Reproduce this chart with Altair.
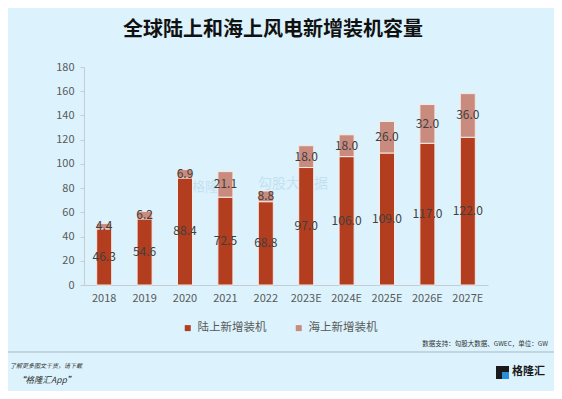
import altair as alt
import pandas as pd

years = ["2018", "2019", "2020", "2021", "2022", "2023E", "2024E", "2025E", "2026E", "2027E"]
onshore = [46.3, 54.6, 88.4, 72.5, 68.8, 97.0, 106.0, 109.0, 117.0, 122.0]
offshore = [4.4, 6.2, 6.9, 21.1, 8.8, 18.0, 18.0, 26.0, 32.0, 36.0]
series = ["陆上新增装机", "海上新增装机"]
colors = ["#b33d1f", "#c98b7e"]
y_ticks = list(range(0, 181, 20))

title_text = "全球陆上和海上风电新增装机容量"
source_text = "数据支持：勾股大数据、GWEC，单位：GW"
footer1 = "了解更多图文干货，请下载"
footer2 = "“格隆汇App”"
logo_text = "格隆汇"

rows = []
for i, y in enumerate(years):
    rows.append({"year": y, "type": series[0], "value": onshore[i], "ord": 0,
                 "mid": onshore[i] / 2})
    rows.append({"year": y, "type": series[1], "value": offshore[i], "ord": 1,
                 "mid": onshore[i] + offshore[i] / 2})
df = pd.DataFrame(rows)

FONT = "Noto Sans CJK SC"

xscale = alt.Scale(paddingInner=0, paddingOuter=0)
xaxis = alt.Axis(labelAngle=0, ticks=False, domainColor="#c5cdd2",
                 labelColor="#595959", labelFontSize=11, labelPadding=7,
                 labelFont=FONT)
yscale = alt.Scale(domain=[0, 180], nice=False)
yaxis = alt.Axis(values=y_ticks, grid=False, domainColor="#c5cdd2",
                 tickColor="#c5cdd2", tickSize=4, labelPadding=6,
                 labelOverlap=False,
                 labelColor="#595959", labelFontSize=11, labelFont=FONT)

bars = alt.Chart(df).mark_bar(size=15, stroke="#f7e9e4", strokeWidth=1).encode(
    x=alt.X("year:N", sort=years, title=None, scale=xscale, axis=xaxis),
    y=alt.Y("value:Q", stack="zero", scale=yscale, title=None, axis=yaxis),
    color=alt.Color("type:N", scale=alt.Scale(domain=series, range=colors),
                    legend=alt.Legend(title=None, orient="none", direction="horizontal",
                                      legendX=98, legendY=255, symbolType="square",
                                      symbolSize=36, labelFontSize=11.5, labelColor="#595959",
                                      labelFont=FONT, columnPadding=26,
                                      symbolStrokeWidth=0)),
    order=alt.Order("ord:Q"),
)

labels = alt.Chart(df).mark_text(fontSize=12, color="#404040", font=FONT).encode(
    x=alt.X("year:N", sort=years, title=None, scale=xscale, axis=xaxis),
    y=alt.Y("mid:Q", scale=yscale, title=None, axis=yaxis),
    text=alt.Text("value:Q", format=".1f"),
)

def txt(s, x, y, **kw):
    return alt.Chart(pd.DataFrame({"t": [s]})).mark_text(font=FONT, **kw).encode(
        text="t:N", x=alt.value(x), y=alt.value(y))

title = txt(title_text, 189, -37, fontSize=20, fontWeight="bold", color="#111111")
source = txt(source_text, 464, 277, fontSize=6.5, color="#333333", align="right")
f1 = txt(footer1, -74, 299, fontSize=6, color="#333333", align="left", fontStyle="italic")
f2 = txt(footer2, -67, 313, fontSize=8.5, color="#333333", align="left", fontStyle="italic")
logo = txt(logo_text, 428, 305, fontSize=11, fontWeight="bold", color="#1a1a1a", align="left")
wm1 = txt("格隆汇", 108, 120, fontSize=13, color="#b9d9ee", align="left", opacity=0.7)
wm2 = txt("勾股大数据", 174, 117, fontSize=14, color="#b9d9ee", align="left", opacity=0.7)

line = alt.Chart(pd.DataFrame({"a": [0]})).mark_rule(color="#a9b7c0", strokeWidth=1).encode(
    x=alt.value(-84), x2=alt.value(478), y=alt.value(285))
icon = alt.Chart(pd.DataFrame({"a": [0]})).mark_rect(color="#1a1a1a").encode(
    x=alt.value(412), x2=alt.value(425), y=alt.value(299), y2=alt.value(312))
icon2 = alt.Chart(pd.DataFrame({"a": [0]})).mark_rect(color="#2a8fd8").encode(
    x=alt.value(418), x2=alt.value(425), y=alt.value(305), y2=alt.value(312))

chart = alt.layer(wm1, wm2, bars, labels, title, source, f1, f2, logo, line, icon, icon2).properties(
    width=404, height=218,
    autosize=alt.AutoSizeParams(type="none"),
    padding={"left": 76, "top": 59, "right": 66, "bottom": 106},
    background="#dcf3fd",
).configure_view(stroke=None)

chart.save("out.html", embed_options={"renderer": "svg", "actions": False})
